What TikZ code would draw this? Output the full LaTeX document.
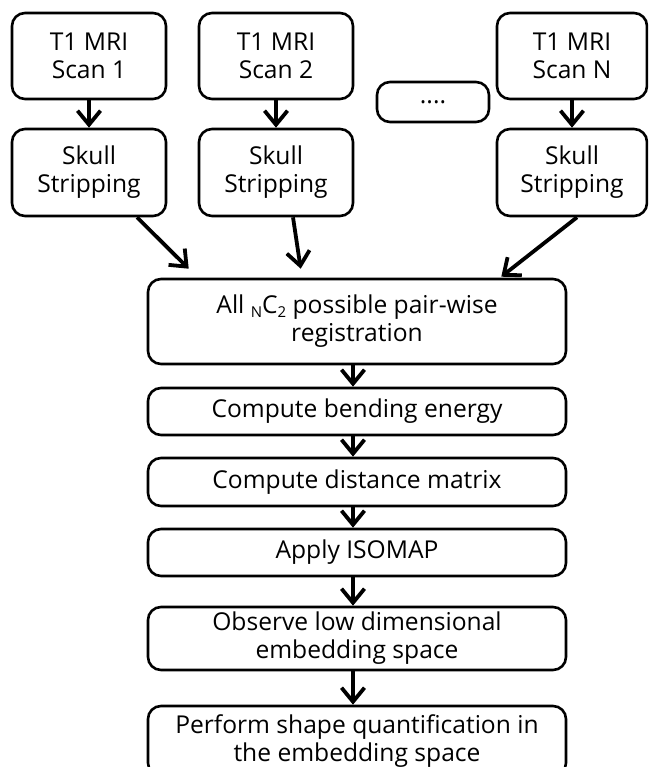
\documentclass[tikz,border=0pt]{standalone}
\usepackage{fontspec}
\setmainfont{Open Sans}
\usetikzlibrary{arrows.meta,calc}
\begin{document}
\begin{tikzpicture}[x=1pt,y=1pt,
  box/.style={draw,line width=2.6pt,rounded corners=13pt,align=center,inner sep=0pt,
    font=\fontsize{24.6}{28}\selectfont},
  arr/.style={line width=3.8pt,-{Straight Barb[length=14pt,width=23pt,line width=3.8pt]}}]
\clip (0,0) rectangle (648,-767);
\useasboundingbox (0,0) rectangle (648,-767);
\node[box,minimum width=154pt,minimum height=86pt] (s1) at (89,-56) {T1 MRI\\Scan 1};
\node[box,minimum width=154pt,minimum height=86pt] (s2) at (276,-56) {T1 MRI\\Scan 2};
\node[box,minimum width=150pt,minimum height=86pt] (sN) at (572,-56) {T1 MRI\\Scan N};
\node[box,minimum width=112pt,minimum height=40pt] (dots) at (433,-102) {....};
\node[box,minimum width=154pt,minimum height=87pt] (k1) at (89,-172.5) {Skull\\Stripping};
\node[box,minimum width=154pt,minimum height=87pt] (k2) at (276,-172.5) {Skull\\Stripping};
\node[box,minimum width=150pt,minimum height=87pt] (kN) at (572,-172.5) {Skull\\Stripping};
\node[box,minimum width=418pt,minimum height=85pt] (big) at (357,-321.5) {All {\fontsize{15}{15}\selectfont\raisebox{-4pt}{N}}C{\fontsize{15}{15}\selectfont\raisebox{-4pt}{2}} possible pair-wise\\registration};
\node[box,minimum width=418pt,minimum height=47pt] (bend) at (357,-411.5) {Compute bending energy};
\node[box,minimum width=418pt,minimum height=48pt] (dist) at (357,-482) {Compute distance matrix};
\node[box,minimum width=418pt,minimum height=47pt] (iso) at (357,-552.5) {Apply ISOMAP};
\node[box,minimum width=418pt,minimum height=63pt] (obs) at (357,-638.5) {Observe low dimensional\\embedding space};
\node[box,minimum width=418pt,minimum height=70pt] (perf) at (357,-741) {Perform shape quantification in\\the embedding space};
\draw[arr] (s1) -- (k1);
\draw[arr] (s2) -- (k2);
\draw[arr] (sN) -- (kN);
\draw[arr] ([xshift=48pt]k1.south) -- ($(big.north west)+(42,9)$);
\draw[arr] ([xshift=17pt]k2.south) -- ($(big.north west)+(154,9)$);
\draw[arr] ([xshift=5pt]kN.south) -- ($(big.north east)+(-66,1)$);
\draw[arr] ([xshift=-4pt]big.south) -- ([xshift=-4pt]bend.north);
\draw[arr] ([xshift=-4pt]bend.south) -- ([xshift=-4pt]dist.north);
\draw[arr] ([xshift=-4pt]dist.south) -- ([xshift=-4pt]iso.north);
\draw[arr] ([xshift=-4pt]iso.south) -- ([xshift=-4pt]obs.north);
\draw[arr] ([xshift=-4pt]obs.south) -- ([xshift=-4pt]perf.north);
\end{tikzpicture}
\end{document}
